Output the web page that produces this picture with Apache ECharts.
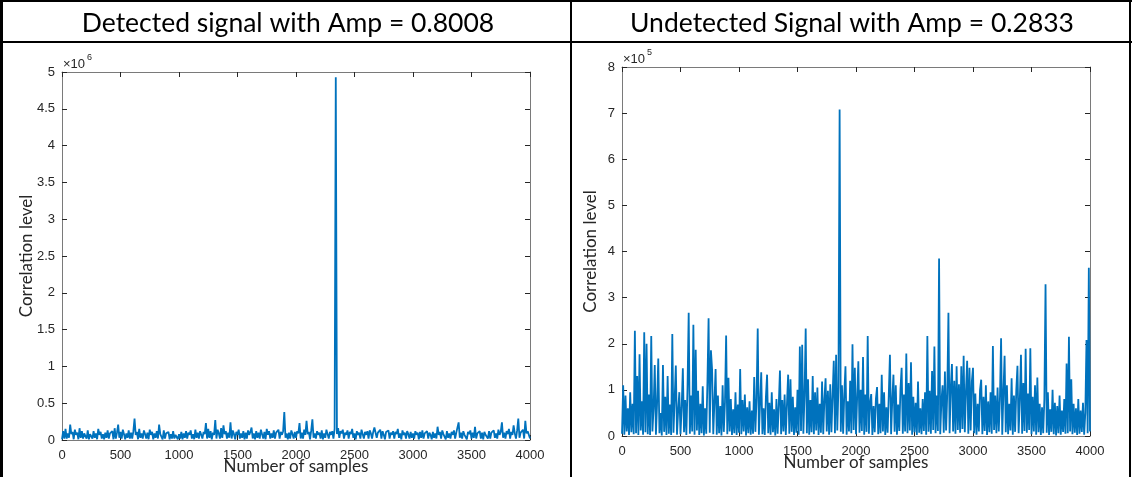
<!DOCTYPE html>
<html>
<head>
<meta charset="utf-8">
<script src="https://cdn.jsdelivr.net/npm/echarts@6/dist/echarts.min.js"></script>
<style>
html,body{margin:0;padding:0;background:#fff;}
#c{width:1132px;height:477px;}
</style>
</head>
<body>
<div id="c"></div>
<script>
// ---------- DATA ----------
const titles = ['Detected signal with Amp = 0.8008', 'Undetected Signal with Amp = 0.2833'];
const xAxisName = 'Number of samples';
const yAxisName = 'Correlation level';
const sampleStep = 10;            // one stored value every 10 samples
const xTicks = [0, 500, 1000, 1500, 2000, 2500, 3000, 3500, 4000];
const yTicks1 = [0, 0.5, 1, 1.5, 2, 2.5, 3, 3.5, 4, 4.5, 5];   // x 10^6
const yTicks2 = [0, 1, 2, 3, 4, 5, 6, 7, 8];                   // x 10^5
const unit1 = 1e4;   // detected values stored in units of 1e4
const unit2 = 1e3;   // undetected values stored in units of 1e3

const detected = [
1,12,2,15,2,9,3,21,8,11,1,14,7,10,1,16,3,12,2,9,
11,2,13,1,8,10,2,12,3,9,1,15,7,11,2,8,1,10,3,13,
2,9,7,12,1,16,2,10,21,3,11,2,14,8,1,9,3,13,2,10,
2,12,29,7,11,1,15,3,9,2,13,8,2,10,1,14,7,11,1,9,
3,12,2,21,8,10,1,13,2,9,7,11,1,8,2,12,2,7,9,1,
8,2,11,1,9,3,12,2,10,7,13,2,8,1,14,3,10,2,12,7,
2,11,8,23,2,15,3,12,1,10,7,27,2,14,9,2,16,3,20,8,
12,2,10,3,24,2,13,8,1,11,7,14,2,9,3,12,1,10,2,13,
7,11,17,2,9,1,12,3,10,2,14,8,2,11,1,15,7,12,2,9,
3,13,2,10,8,14,2,11,7,12,38,3,9,1,10,2,13,8,2,11,
3,12,9,23,2,10,2,14,7,26,8,11,1,13,28,3,9,2,12,7,
10,2,13,1,9,3,14,8,2,11,7,12,2,15,493,8,16,3,12,9,
14,2,10,7,13,2,11,8,15,3,9,1,12,7,10,2,14,8,2,11,
7,12,2,13,9,2,11,17,16,3,10,8,14,2,12,7,1,11,9,13,
2,10,7,12,2,11,8,15,3,9,1,13,7,10,2,12,8,2,11,3,
9,2,12,7,10,1,11,3,13,2,9,8,12,2,10,7,1,11,3,9,
2,18,7,11,2,13,8,10,1,12,3,9,2,11,7,13,2,10,8,24,
3,10,2,12,7,9,1,11,8,13,2,10,3,18,2,9,7,12,2,10,
1,11,7,9,2,12,2,10,8,13,3,9,2,14,7,11,24,3,10,2,
12,8,15,2,11,7,20,9,2,13,29,3,10,8,14,2,26,9,12,7,
2
];

const undetected = [
5,110,3,88,10,60,2,95,8,70,4,228,6,130,2,177,12,75,3,225,
8,200,4,90,2,217,10,60,154,3,72,168,6,50,1,154,9,85,2,130,
5,68,2,221,7,80,153,3,55,95,4,62,147,8,78,2,105,267,5,88,
10,241,3,187,12,98,2,70,6,108,1,60,5,115,255,7,186,144,4,75,
145,3,88,6,65,1,110,9,72,218,4,126,10,80,2,58,6,95,2,68,
7,145,4,78,10,90,1,62,6,75,3,55,5,128,9,82,233,3,70,138,
4,60,2,85,133,6,72,3,95,8,58,1,80,5,68,142,4,78,10,90,
2,70,133,5,123,9,85,2,62,7,100,3,194,11,198,5,88,233,6,123,
3,78,8,130,4,95,12,105,2,70,7,118,4,80,125,10,98,3,112,8,
88,163,6,176,12,105,708,9,110,5,92,151,3,75,10,120,6,199,13,148,
4,85,162,7,100,11,171,3,90,9,217,5,72,91,2,65,8,80,106,4,
70,6,133,10,95,2,62,7,88,176,4,78,133,9,110,3,68,11,102,148,
5,90,10,179,6,115,12,160,3,85,8,72,2,118,7,60,4,80,11,95,
3,217,9,98,5,141,13,194,6,88,11,385,4,75,110,7,140,12,92,267,
6,105,156,10,120,5,151,13,112,7,151,15,174,8,98,163,5,148,12,118,
148,6,92,3,70,10,100,122,4,85,11,110,2,75,8,95,5,195,13,88,
6,105,10,80,212,3,95,174,8,110,4,70,12,125,3,88,9,100,152,6,
78,176,5,115,11,189,7,92,13,190,4,85,10,110,3,127,8,70,2,62,
6,80,329,7,95,2,58,9,100,4,72,1,65,6,88,3,55,9,80,5,
157,6,215,10,123,4,70,7,60,2,80,5,55,9,72,3,50,208,6,365,
10
];

// ---------- BUILD ----------
const toPairs = (arr, unit) => arr.map((v, i) => [i * sampleStep, v * unit]);
const lineColor = '#0072BD';
const axisCol = '#7a7a7a';
const tickCol = '#262626';
const tickFont = 'Liberation Sans';
const labelFont = 'Lato';

const G = [
  {left: 62, top: 72, width: 468, height: 368, outerBoundsMode: 'none', containLabel: false},
  {left: 622, top: 67, width: 468, height: 369, outerBoundsMode: 'none', containLabel: false}
];

function xAxes(gi) {
  const base = {
    gridIndex: gi, type: 'value', min: 0, max: 4000, interval: 500,
    axisLine: {show: true, onZero: false, lineStyle: {color: axisCol, width: 1}},
    axisTick: {show: true, inside: true, length: 5, lineStyle: {color: tickCol}},
    splitLine: {show: false}
  };
  return [
    Object.assign({}, base, {
      position: 'bottom',
      axisLabel: {show: true, color: tickCol, fontFamily: tickFont, fontSize: 13, margin: 9,
        formatter: v => xTicks.includes(v) ? String(v) : ''},
      name: xAxisName, nameLocation: 'middle', nameGap: 18, nameMoveOverlap: false,
      nameTextStyle: {fontFamily: labelFont, fontSize: 17, color: '#262626'}
    }),
    Object.assign({}, base, {position: 'top', axisLabel: {show: false}})
  ];
}
function yAxes(gi, max, interval, scale, gap) {
  const base = {
    gridIndex: gi, type: 'value', min: 0, max: max, interval: interval,
    axisLine: {show: true, onZero: false, lineStyle: {color: axisCol, width: 1}},
    axisTick: {show: true, inside: true, length: 5, lineStyle: {color: tickCol}},
    splitLine: {show: false}
  };
  return [
    Object.assign({}, base, {
      position: 'left',
      axisLabel: {show: true, color: tickCol, fontFamily: tickFont, fontSize: 13, margin: 7,
        formatter: v => String(Math.round(v / scale * 10) / 10)},
      name: yAxisName, nameLocation: 'middle', nameGap: gap, nameMoveOverlap: false,
      nameTextStyle: {fontFamily: labelFont, fontSize: 17, color: '#262626'}
    }),
    Object.assign({}, base, {position: 'right', axisLabel: {show: false}})
  ];
}

const chart = echarts.init(document.getElementById('c'), null, {renderer: 'canvas'});

const border = '#000';
const graphic = [
  {type: 'line', shape: {x1: 1.5, y1: 0, x2: 1.5, y2: 477}, style: {stroke: border, lineWidth: 3}},
  {type: 'line', shape: {x1: 0, y1: 1, x2: 1132, y2: 1}, style: {stroke: border, lineWidth: 2}},
  {type: 'line', shape: {x1: 0, y1: 42, x2: 1132, y2: 42}, style: {stroke: border, lineWidth: 2}},
  {type: 'line', shape: {x1: 571, y1: 0, x2: 571, y2: 477}, style: {stroke: border, lineWidth: 2}},
  {type: 'line', shape: {x1: 1130, y1: 0, x2: 1130, y2: 477}, style: {stroke: border, lineWidth: 2}},
  {type: 'text', x: 288, y: 23, style: {text: titles[0], fontFamily: labelFont, fontSize: 26.5, fill: '#000', align: 'center', verticalAlign: 'middle'}},
  {type: 'text', x: 852, y: 23, style: {text: titles[1], fontFamily: labelFont, fontSize: 26.5, fill: '#000', align: 'center', verticalAlign: 'middle'}},
  {type: 'text', x: G[0].left + 1, y: G[0].top - 8, style: {text: '\u00d710', fontFamily: tickFont, fontSize: 13, fill: tickCol, align: 'left', verticalAlign: 'middle'}},
  {type: 'text', x: G[0].left + 25, y: G[0].top - 14, style: {text: '6', fontFamily: tickFont, fontSize: 9, fill: tickCol, align: 'left', verticalAlign: 'middle'}},
  {type: 'text', x: G[1].left + 1, y: G[1].top - 8, style: {text: '\u00d710', fontFamily: tickFont, fontSize: 13, fill: tickCol, align: 'left', verticalAlign: 'middle'}},
  {type: 'text', x: G[1].left + 25, y: G[1].top - 14, style: {text: '5', fontFamily: tickFont, fontSize: 9, fill: tickCol, align: 'left', verticalAlign: 'middle'}}
];

chart.setOption({
  animation: false,
  backgroundColor: '#fff',
  grid: G,
  xAxis: [...xAxes(0), ...xAxes(1)],
  yAxis: [...yAxes(0, 5e6, 0.5e6, 1e6, 27), ...yAxes(1, 8e5, 1e5, 1e5, 23)],
  graphic: graphic,
  series: [
    {type: 'line', xAxisIndex: 0, yAxisIndex: 0, data: toPairs(detected, unit1), showSymbol: false, symbol: 'none',
      sampling: null, lineStyle: {color: lineColor, width: 1.8}, silent: true},
    {type: 'line', xAxisIndex: 2, yAxisIndex: 2, data: toPairs(undetected, unit2), showSymbol: false, symbol: 'none',
      sampling: null, lineStyle: {color: lineColor, width: 1.8}, silent: true}
  ]
});
</script>
</body>
</html>
